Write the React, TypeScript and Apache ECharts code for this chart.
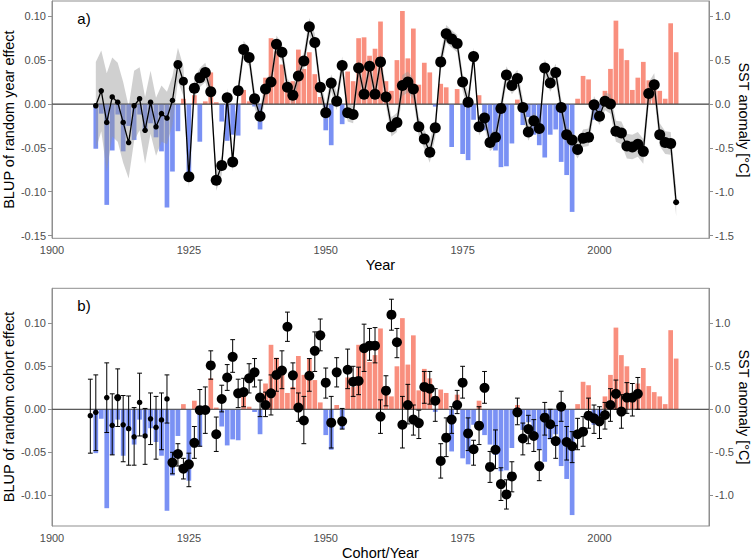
import React, { useEffect, useRef } from "react";
import * as echarts from "echarts";

// ---------- DATA ----------
const sstStartYear = 1908;
const sstAnomaly = [
  -0.51, -0.11, -1.15, -0.53, -0.12, -0.54, -0.25, -0.41, -0.12, -0.30,
  -0.22, -0.38, -0.54, -1.18, -0.77, -0.31, 0.06, -0.83, 0.10, -0.43,
  0.03, 0.36, 0.02, -0.20, -0.42, -0.35, -0.36, 0.16, 0.03, -0.03,
  -0.29, 0.30, 0.75, 0.60, 0.45, 0.19, 0.26, 0.62, 0.40, 0.59,
  0.34, 0.08, -0.30, -0.47, 0.05, -0.23, 0.37, 0.26, 0.75, 0.76,
  0.55, 0.63, 0.94, 0.26, 0.15, 0.50, 1.06, 0.52, 0.86, 0.22,
  0.47, 0.36, -0.03, 0.23, 0.19, -0.49, 0.17, -0.57, -0.64, -0.18,
  0.10, -0.30, -0.41, -0.53, -0.72, -0.71, -0.45, 0.05, -0.24, -0.15,
  -0.35, -0.47, -0.61, -0.35, -0.29, -0.66, -0.81, -1.23, 0.06, 0.32,
  0.28, -0.18, -0.08, 0.15, 0.40, 0.95, 0.63, 0.50, 0.16, 0.30,
  0.48, 0.27, 0.20, 0.15, 0.06, 0.92, 0.59,
];

const yearStartYear = 1908;
const yearEffect = [
  -0.002, 0.015, -0.021, 0.008, 0.002, -0.021, -0.044, -0.002, 0.006, -0.030,
  0.002, -0.026, -0.011, -0.016, 0.004, 0.045, 0.026, -0.083, 0.018, 0.030,
  0.036, 0.014, -0.087, -0.070, 0.007, -0.066, 0.015, 0.062, 0.053, 0.006,
  -0.014, 0.017, 0.025, 0.068, 0.059, 0.019, 0.010, 0.032, 0.049, 0.088,
  0.070, 0.019, -0.010, 0.024, 0.003, 0.044, -0.010, -0.012, 0.041, 0.011,
  0.043, 0.011, 0.048, 0.008, -0.026, -0.021, 0.021, 0.025, 0.017, -0.026,
  -0.040, -0.055, -0.027, 0.048, 0.080, 0.074, 0.069, 0.025, 0.002, 0.054,
  -0.026, -0.016, -0.044, -0.038, -0.005, 0.033, 0.021, 0.029, -0.004, -0.032,
  -0.019, -0.028, 0.041, 0.024, 0.036, -0.004, -0.035, -0.041, -0.052, -0.039,
  -0.038, -0.001, -0.014, 0.003, 0.000, -0.031, -0.033, -0.048, -0.049, -0.046,
  -0.054, 0.012, 0.022, -0.035, -0.044, -0.045, -0.112,
];
const yearEffectHalfCI = [
  0.050, 0.046, 0.056, 0.045, 0.045, 0.046, 0.041, 0.040, 0.036, 0.038,
  0.036, 0.033, 0.032, 0.030, 0.028, 0.019, 0.017, 0.012, 0.011, 0.011,
  0.011, 0.011, 0.012, 0.011, 0.011, 0.011, 0.010, 0.010, 0.010, 0.010,
  0.010, 0.010, 0.010, 0.010, 0.010, 0.010, 0.010, 0.010, 0.010, 0.010,
  0.010, 0.010, 0.010, 0.010, 0.010, 0.010, 0.010, 0.010, 0.010, 0.010,
  0.010, 0.010, 0.010, 0.010, 0.011, 0.011, 0.012, 0.012, 0.012, 0.011,
  0.011, 0.012, 0.011, 0.010, 0.010, 0.010, 0.010, 0.010, 0.010, 0.010,
  0.010, 0.010, 0.010, 0.010, 0.010, 0.010, 0.010, 0.010, 0.010, 0.010,
  0.010, 0.010, 0.010, 0.010, 0.010, 0.010, 0.010, 0.010, 0.010, 0.010,
  0.010, 0.010, 0.010, 0.010, 0.011, 0.012, 0.013, 0.014, 0.014, 0.014,
  0.014, 0.013, 0.013, 0.013, 0.013, 0.013, 0.016,
];

const cohortStartYear = 1907;
const cohortEffect = [
  -0.0074, -0.0035, null, 0.0136, -0.0186, 0.0136, -0.018, -0.0225, -0.032, 0.008,
  -0.031, -0.011, -0.021, -0.0124, 0.012, -0.062, -0.052, -0.069, -0.064, -0.039,
  -0.001, -0.0008, 0.051, -0.029, 0.012, 0.037, 0.061, 0.0186, 0.020, 0.036,
  0.043, 0.0136, 0.005, 0.0186, 0.040, 0.045, 0.096, 0.0395, 0.002, -0.013,
  0.039, 0.068, 0.086, 0.031, -0.0155, 0.043, -0.014, 0.046, 0.032, 0.033,
  0.071, 0.074, 0.074, -0.0085, 0.0217, 0.110, 0.078, -0.018, 0.005, -0.012,
  -0.016, 0.026, 0.024, 0.010, -0.060, -0.033, -0.012, 0.005, 0.031, -0.028,
  -0.0465, -0.019, 0.025, -0.067, -0.047, -0.087, -0.099, -0.078, -0.0035, -0.034,
  -0.023, -0.031, -0.066, -0.0097, -0.0174, -0.037, 0.003, -0.038, -0.043, -0.029,
  -0.026, -0.0074, -0.0105, -0.014, -0.0066, 0.005, 0.018, -0.0027, 0.0136, 0.0136,
  0.018,
];
const cohortLower = [
  -0.051, -0.048, null, -0.027, -0.053, -0.020, -0.061, -0.065, -0.065, -0.031,
  -0.064, -0.041, -0.058, -0.047, -0.016, -0.075, -0.066, -0.081, -0.090, -0.057,
  -0.043, -0.028, 0.035, -0.049, -0.003, 0.022, 0.043, 0.002, 0.003, 0.019,
  0.026, -0.0085, -0.0085, -0.0066, 0.021, 0.024, 0.079, 0.024, -0.014, -0.040,
  0.021, 0.044, 0.068, 0.013, -0.045, 0.026, -0.023, 0.024, 0.015, 0.017,
  0.044, 0.057, 0.054, -0.028, 0.004, 0.092, 0.060, -0.045, -0.017, -0.030,
  -0.034, 0.007, 0.006, -0.014, -0.080, -0.055, -0.028, -0.005, 0.013, -0.048,
  -0.065, -0.041, 0.007, -0.085, -0.069, -0.106, -0.116, -0.096, -0.018, -0.053,
  -0.040, -0.049, -0.083, -0.030, -0.034, -0.057, -0.014, -0.059, -0.062, -0.047,
  -0.043, -0.022, -0.028, -0.034, -0.023, -0.014, 0.000, -0.022, -0.0047, -0.0078,
  0.000,
];
const cohortUpper = [
  0.035, 0.040, null, 0.054, 0.018, 0.047, 0.016, 0.0155, 0.002, 0.042,
  0.001, 0.019, 0.015, 0.019, 0.040, -0.050, -0.040, -0.057, -0.051, -0.020,
  0.023, 0.026, 0.068, -0.009, 0.028, 0.052, 0.081, 0.035, 0.036, 0.053,
  0.059, 0.034, 0.020, 0.040, 0.059, 0.068, 0.113, 0.054, 0.019, 0.015,
  0.059, 0.090, 0.105, 0.048, 0.015, 0.060, 0.001, 0.070, 0.050, 0.049,
  0.099, 0.094, 0.095, 0.011, 0.039, 0.128, 0.094, 0.015, 0.029, 0.005,
  -0.001, 0.044, 0.044, 0.024, -0.040, -0.010, 0.003, 0.022, 0.050, -0.010,
  -0.036, 0.003, 0.044, -0.049, -0.024, -0.068, -0.082, -0.061, 0.013, -0.016,
  -0.007, -0.012, -0.047, 0.008, 0.000, -0.019, 0.021, -0.020, -0.026, -0.0105,
  -0.0085, 0.013, 0.005, 0.003, 0.008, 0.024, 0.034, 0.017, 0.031, 0.030,
  0.037,
];

const xTicks = [1900, 1925, 1950, 1975, 2000];
const yTicksA = [-0.15, -0.1, -0.05, 0, 0.05, 0.1];
const sstTicksA = [-1.5, -1, -0.5, 0, 0.5, 1];
const yTicksB = [-0.1, -0.05, 0, 0.05, 0.1];
const sstTicksB = [-1, -0.5, 0, 0.5, 1];

// ---------- STYLE ----------
const RED = "#F98F7E";
const BLUE = "#7A91F4";
const FRAME = "#8f8f8f";
const TICKTXT = "#4D4D4D";
const FONT = "Liberation Sans, Arial, sans-serif";

const A_MIN = -0.1531, A_MAX = 0.1174;
const B_MIN = -0.1357, B_MAX = 0.1407;

export default function App() {
  const ref = useRef<HTMLDivElement>(null);

  useEffect(() => {
    if (!ref.current) return;
    const chart = echarts.init(ref.current, undefined, { renderer: "svg" });

    const sstData = sstAnomaly.map((v, i) => [sstStartYear + i, v]);
    const yearData = yearEffect.map((v, i) => [yearStartYear + i, v]);
    const bandData = yearEffect.map((v, i) => [
      yearStartYear + i,
      v - yearEffectHalfCI[i],
      v + yearEffectHalfCI[i],
    ]);
    const cohortPts: number[][] = [];
    const cohortErr: number[][] = [];
    cohortEffect.forEach((v, i) => {
      if (v === null) return;
      const yr = cohortStartYear + i;
      cohortPts.push([yr, v]);
      cohortErr.push([yr, cohortLower[i] as number, cohortUpper[i] as number]);
    });

    const grids = [
      { left: 52, top: 1, width: 657, height: 237.3 },
      { left: 52, top: 288.3, width: 657, height: 237.7 },
    ].map((g) => ({
      ...g,
      show: true,
      borderColor: FRAME,
      borderWidth: 1,
      backgroundColor: "transparent",
      containLabel: false,
    }));

    const xAxisBase = (gi: number) => ({
      type: "value",
      gridIndex: gi,
      min: 1900,
      max: 2020,
      axisLine: { show: true, lineStyle: { color: FRAME, width: 1 } },
      axisTick: { show: true, length: 4, lineStyle: { color: FRAME }, customValues: xTicks },
      axisLabel: {
        color: TICKTXT,
        fontSize: 11,
        fontFamily: FONT,
        margin: 6,
        customValues: xTicks,
        formatter: (v: number) => String(v),
      },
      splitLine: { show: false },
    });

    const yAxis = (gi: number, min: number, max: number, ticks: number[], dec: number, pos: string) => ({
      type: "value",
      gridIndex: gi,
      position: pos,
      min,
      max,
      axisLine: { show: true, lineStyle: { color: FRAME, width: 1 } },
      axisTick: { show: true, length: 4, lineStyle: { color: FRAME }, customValues: ticks },
      axisLabel: {
        color: TICKTXT,
        fontSize: 11,
        fontFamily: FONT,
        margin: 6,
        customValues: ticks,
        formatter: (v: number) => v.toFixed(dec),
      },
      splitLine: { show: false },
    });

    const barColor = (p: any) => (p.value[1] >= 0 ? RED : BLUE);

    const sizeA = (val: number[]) => {
      const yr = val[0];
      if (yr < 1923) return 5.5;
      if (yr < 1925) return 9;
      if (yr >= 2014) return 6;
      return 11;
    };
    const sizeB = (val: number[]) => {
      const yr = val[0];
      if (yr < 1922) return yr === 1912 ? 7 : 5.5;
      return 10;
    };

    // ribbon: one polygon through all low points then back through high points
    const bandRender = (params: any, api: any) => {
      if (params.dataIndex !== 0) return null;
      const lowPts = bandData.map((d) => api.coord([d[0], d[1]]));
      const highPts = bandData.map((d) => api.coord([d[0], d[2]])).reverse();
      return {
        type: "polygon",
        shape: { points: lowPts.concat(highPts) },
        style: { fill: "rgba(150,150,150,0.45)", stroke: "none" },
      };
    };

    const errRender = (params: any, api: any) => {
      const x = api.value(0);
      const lo = api.coord([x, api.value(1)]);
      const hi = api.coord([x, api.value(2)]);
      const w = 2.4;
      const st = { stroke: "#000", lineWidth: 1 };
      return {
        type: "group",
        children: [
          { type: "line", shape: { x1: lo[0], y1: lo[1], x2: hi[0], y2: hi[1] }, style: st },
          { type: "line", shape: { x1: lo[0] - w, y1: lo[1], x2: lo[0] + w, y2: lo[1] }, style: st },
          { type: "line", shape: { x1: hi[0] - w, y1: hi[1], x2: hi[0] + w, y2: hi[1] }, style: st },
        ],
      };
    };

    const title = (text: string, x: number, y: number, rot: number, size = 14.5) => ({
      type: "text",
      x,
      y,
      rotation: rot,
      style: {
        text,
        fontSize: size,
        fontFamily: FONT,
        fill: "#000",
        align: "center",
        verticalAlign: "middle",
      },
      z: 100,
    });

    const option: any = {
      animation: false,
      backgroundColor: "#fff",
      grid: grids,
      xAxis: [xAxisBase(0), xAxisBase(1)],
      yAxis: [
        yAxis(0, A_MIN, A_MAX, yTicksA, 2, "left"),
        yAxis(0, A_MIN * 10, A_MAX * 10, sstTicksA, 1, "right"),
        yAxis(1, B_MIN, B_MAX, yTicksB, 2, "left"),
        yAxis(1, B_MIN * 10, B_MAX * 10, sstTicksB, 1, "right"),
      ],
      series: [
        // Panel a
        {
          type: "bar",
          xAxisIndex: 0,
          yAxisIndex: 1,
          data: sstData,
          barWidth: 4.7,
          itemStyle: { color: barColor },
          z: 1,
        },
        {
          type: "custom",
          xAxisIndex: 0,
          yAxisIndex: 0,
          data: bandData,
          encode: { x: 0, y: [1, 2] },
          renderItem: bandRender,
          silent: true,
          z: 2,
        },
        {
          type: "line",
          xAxisIndex: 0,
          yAxisIndex: 0,
          data: [[1900, 0], [2020, 0]],
          symbol: "none",
          lineStyle: { color: "#4a4a4a", width: 1.1 },
          z: 3,
        },
        {
          type: "line",
          xAxisIndex: 0,
          yAxisIndex: 0,
          data: yearData,
          symbol: "circle",
          symbolSize: sizeA,
          showAllSymbol: true,
          lineStyle: { color: "#000", width: 1.3 },
          itemStyle: { color: "#000" },
          z: 4,
        },
        // Panel b
        {
          type: "bar",
          xAxisIndex: 1,
          yAxisIndex: 3,
          data: sstData,
          barWidth: 4.7,
          itemStyle: { color: barColor },
          z: 1,
        },
        {
          type: "line",
          xAxisIndex: 1,
          yAxisIndex: 2,
          data: [[1900, 0], [2020, 0]],
          symbol: "none",
          lineStyle: { color: "#4a4a4a", width: 1.1 },
          z: 3,
        },
        {
          type: "custom",
          xAxisIndex: 1,
          yAxisIndex: 2,
          data: cohortErr,
          encode: { x: 0, y: [1, 2] },
          renderItem: errRender,
          z: 4,
        },
        {
          type: "scatter",
          xAxisIndex: 1,
          yAxisIndex: 2,
          data: cohortPts,
          symbol: "circle",
          symbolSize: sizeB,
          itemStyle: { color: "#000", opacity: 1 },
          z: 5,
        },
      ],
      graphic: [
        title("a)", 84, 18, 0, 15),
        title("b)", 84, 305, 0, 15),
        title("Year", 380.5, 265, 0),
        title("Cohort/Year", 380.5, 553, 0),
        title("BLUP of random year effect", 9, 119.6, Math.PI / 2),
        title("BLUP of random cohort effect", 9, 407, Math.PI / 2),
        title("SST anomaly [°C]", 744, 120, -Math.PI / 2),
        title("SST anomaly [°C]", 744, 407, -Math.PI / 2),
      ],
    };

    chart.setOption(option);
    return () => chart.dispose();
  }, []);

  return (
    <div
      ref={ref}
      style={{ position: "absolute", left: 0, top: 0, width: 751, height: 560 }}
    />
  );
}
